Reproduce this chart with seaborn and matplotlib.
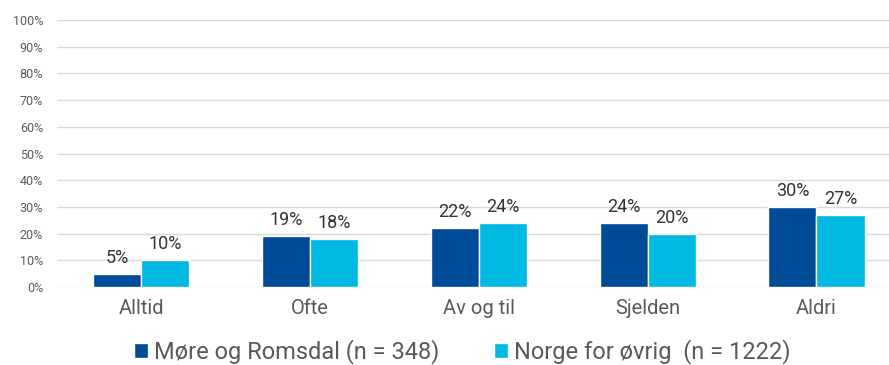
import matplotlib
matplotlib.use("Agg")
import matplotlib.pyplot as plt
import seaborn as sns
import pandas as pd
from matplotlib.ticker import FuncFormatter, MultipleLocator

categories = ["Alltid", "Ofte", "Av og til", "Sjelden", "Aldri"]
series_names = ["Møre og Romsdal (n = 348)", "Norge for øvrig  (n = 1222)"]
more_romsdal = [5, 19, 22, 24, 30]
norge_ovrig = [10, 18, 24, 20, 27]
colors = ["#004B98", "#00B9E3"]

df = pd.DataFrame({
    "kategori": categories * 2,
    "gruppe": [series_names[0]] * len(categories) + [series_names[1]] * len(categories),
    "andel": more_romsdal + norge_ovrig,
})

sns.set_theme(style="white")
plt.rcParams["font.family"] = ["Roboto", "DejaVu Sans"]

fig = plt.figure(figsize=(8.89, 3.65), dpi=100)
ax = fig.add_axes([0.064, 0.2137, 0.936, 0.7315])

sns.barplot(data=df, x="kategori", y="andel", hue="gruppe", order=categories,
            hue_order=series_names, palette=colors, width=0.57, saturation=1,
            ax=ax, legend=True)

for container in ax.containers:
    ax.bar_label(container, fmt="%g%%", padding=5, fontsize=13, color="#333333")

ax.set_ylim(0, 100)
ax.set_xlim(-0.5, 4.43)
ax.yaxis.set_major_locator(MultipleLocator(10))
ax.yaxis.set_major_formatter(FuncFormatter(lambda v, p: f"{v:.0f}%"))
ax.grid(axis="y", color="#d9d9d9", linewidth=1)
ax.set_axisbelow(True)
for s in ax.spines.values():
    s.set_visible(False)
ax.set_xlabel("")
ax.set_ylabel("")
ax.tick_params(axis="y", labelsize=9, colors="#595959", length=0, pad=10)
ax.tick_params(axis="x", labelsize=14.5, colors="#595959", length=0, pad=9)

handles, labels = ax.get_legend_handles_labels()
ax.get_legend().remove()
fig.legend(handles, labels, loc="center", bbox_to_anchor=(0.52, 0.037), ncol=2,
           frameon=False, fontsize=17, handlelength=0.6, handleheight=0.6,
           handletextpad=0.25, columnspacing=2.3, labelcolor="#595959",
           borderpad=0, borderaxespad=0)

fig.savefig("out.png", dpi=100)
